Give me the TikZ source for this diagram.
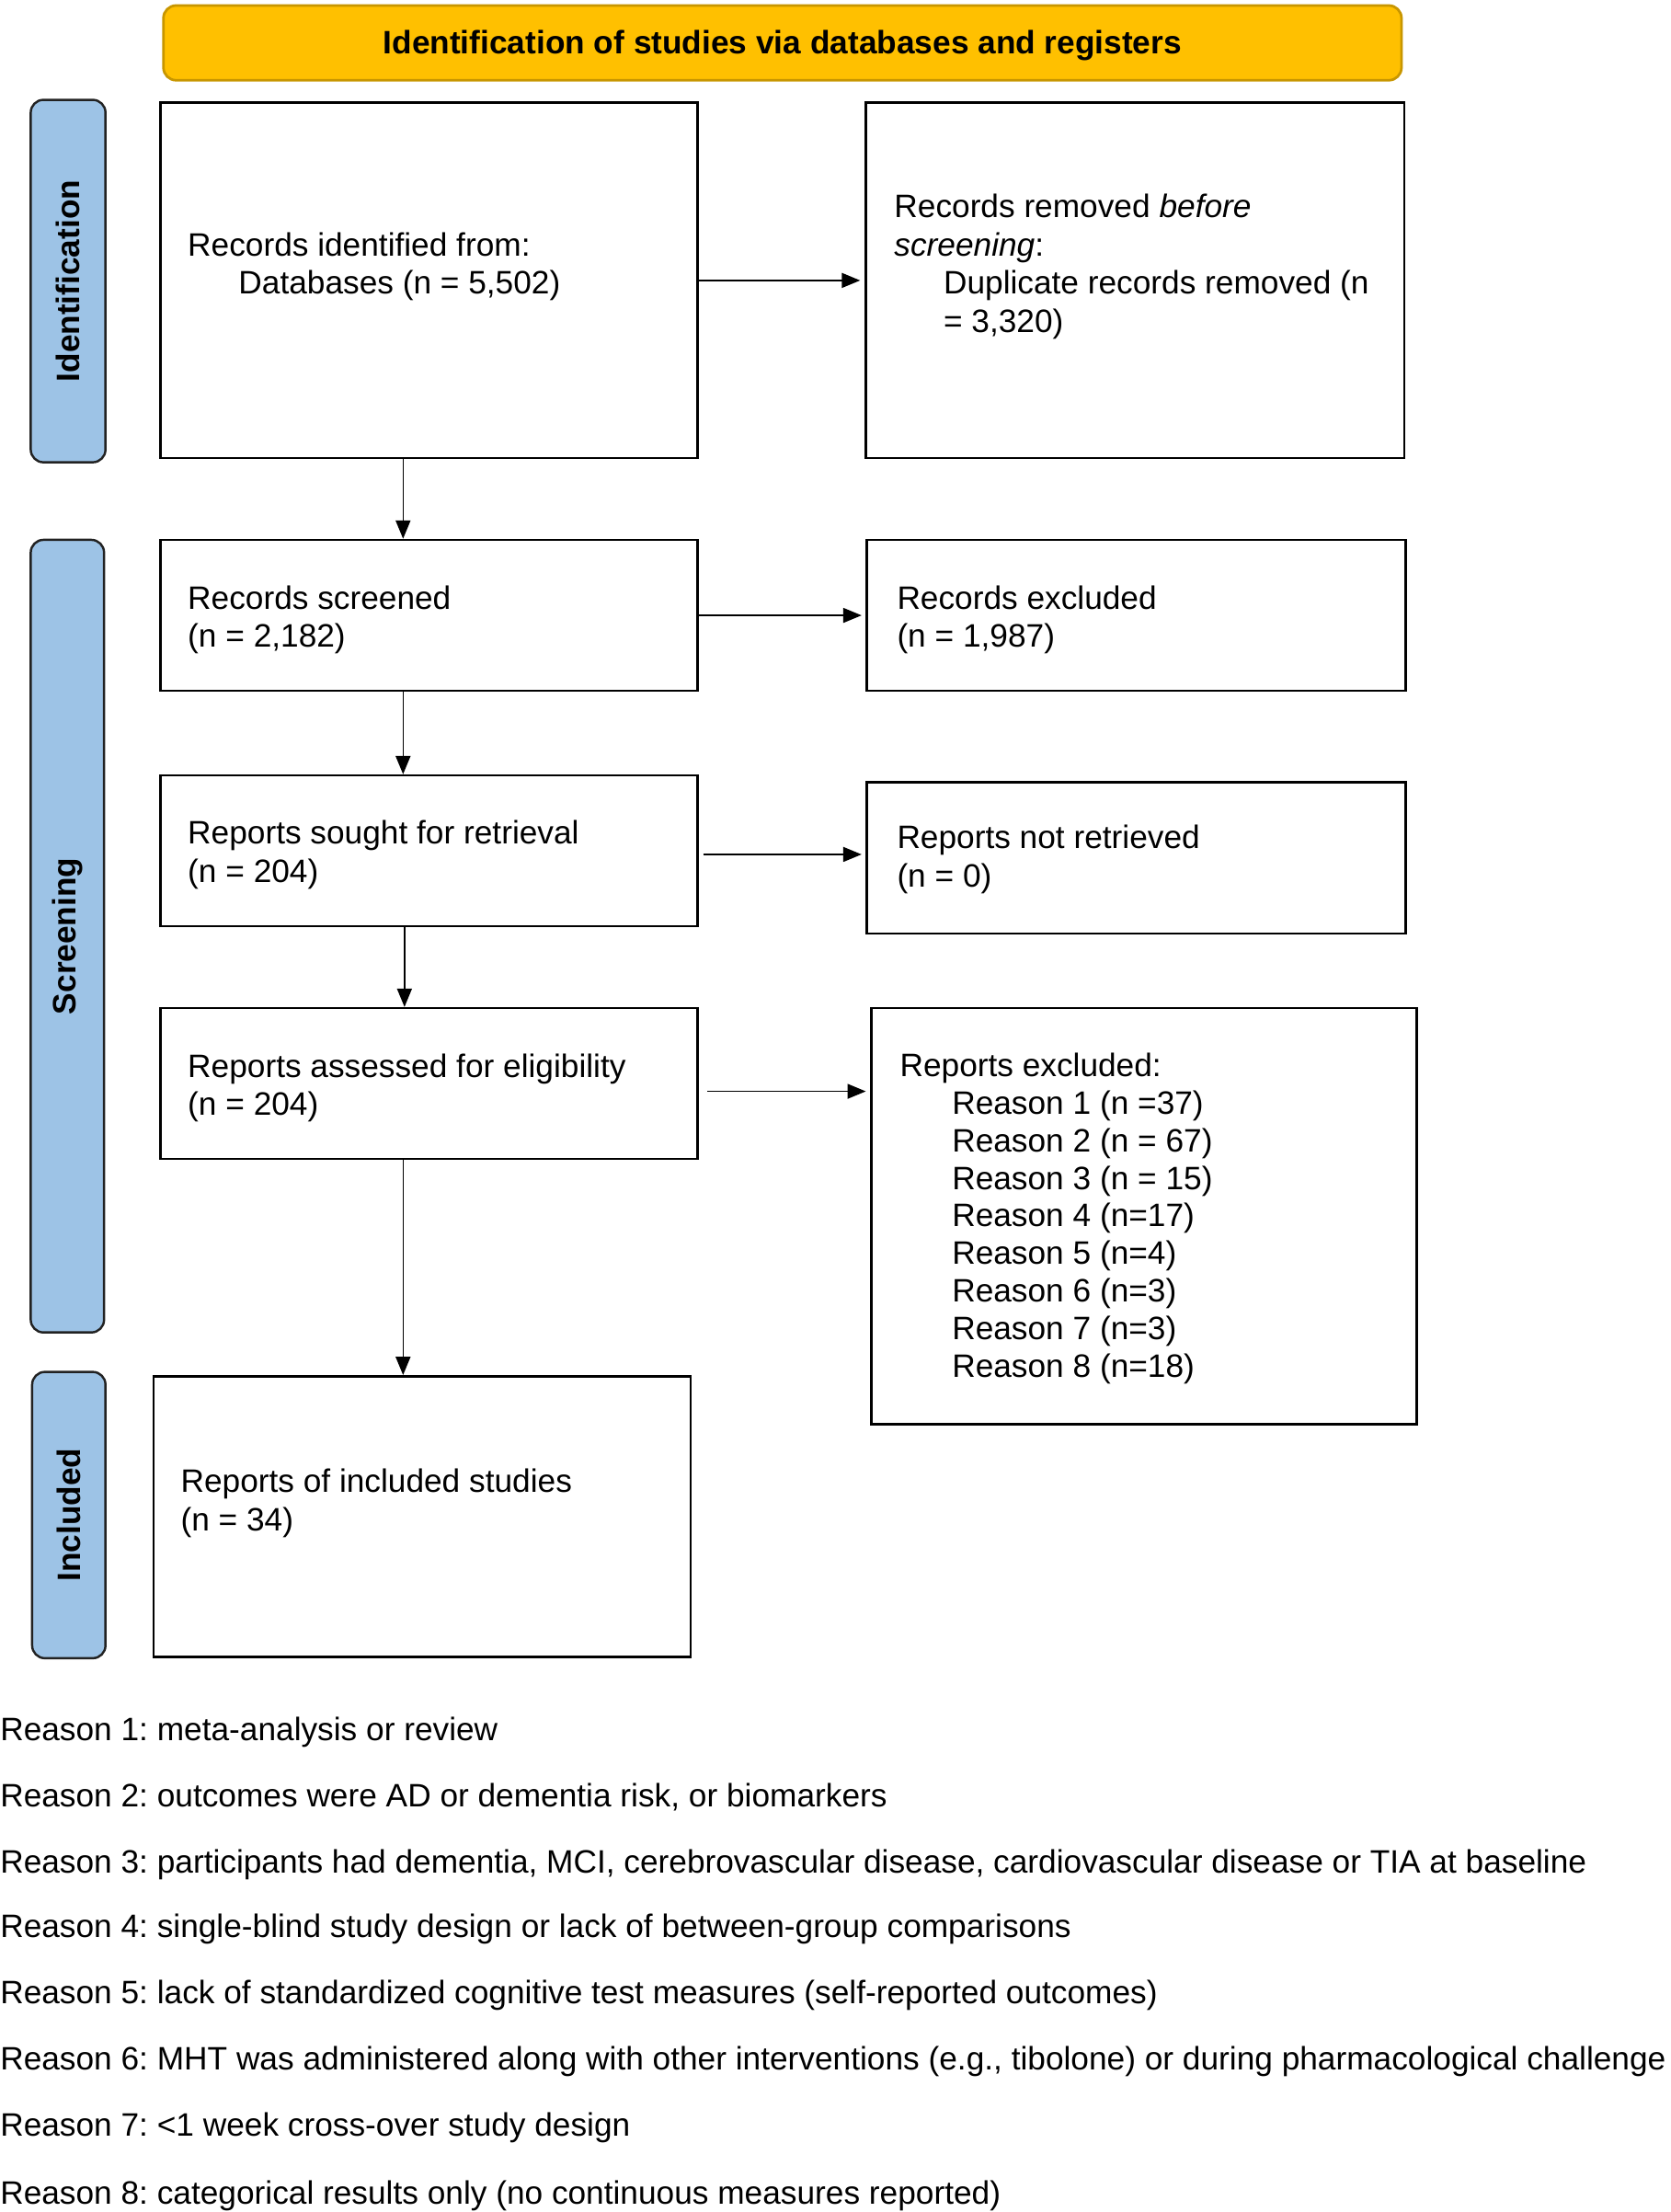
\documentclass[tikz,border=0pt]{standalone}
\usepackage{fontspec}
\setmainfont{Liberation Sans}
\usetikzlibrary{arrows.meta,calc}
\definecolor{hdrfill}{HTML}{FFC000}
\definecolor{hdrline}{HTML}{C89600}
\definecolor{sidefill}{HTML}{9DC3E6}
\definecolor{sideline}{HTML}{222222}
\frenchspacing
\begin{document}
\frenchspacing
\begin{tikzpicture}[x=1pt,y=-1pt,
  font=\fontsize{23}{27}\selectfont,
  box/.style={draw=black, line width=1.7pt, fill=white, rectangle, inner sep=0pt, anchor=north west},
  sidebar/.style={draw=sideline, line width=1.6pt, fill=sidefill, rounded corners=9pt, rectangle, inner sep=0pt, anchor=north west},
  sidetext/.style={rotate=90, font=\fontsize{23}{27}\selectfont\bfseries, inner sep=0pt},
  txt/.style={align=left, inner sep=0pt, anchor=west},
  foot/.style={inner sep=0pt, anchor=base west},
  arr/.style={line width=1pt, -{Triangle[length=13pt,width=10.5pt]}}
]
\useasboundingbox (0,0) rectangle (1185,1568.5);

% header
\node[draw=hdrline, line width=1.8pt, fill=hdrfill, rounded corners=9pt, minimum width=878pt, minimum height=53pt, anchor=north west, inner sep=0pt] (hdr) at (115,3) {};
\node[font=\fontsize{23}{27}\selectfont\bfseries, inner sep=0pt] (hdrt) at ([yshift=-2pt]hdr.center) {Identification of studies via databases and registers};

% side bars
\node[sidebar, minimum width=53pt, minimum height=257pt] (s1) at (21,70) {};
\node[sidetext] (s1t) at (s1.center) {Identification};
\node[sidebar, minimum width=52pt, minimum height=562pt] (s2) at (21,382) {};
\node[sidetext] (s2t) at (s2.center) {Screening};
\node[sidebar, minimum width=52pt, minimum height=203pt] (s3) at (22,972) {};
\node[sidetext] (s3t) at (s3.center) {Included};

% boxes
\node[box, minimum width=381pt, minimum height=252pt] (b1) at (113,72) {};
\node[box, minimum width=382pt, minimum height=252pt] (b2) at (613,72) {};
\node[box, minimum width=381pt, minimum height=107pt] (b3) at (113,382) {};
\node[box, minimum width=382pt, minimum height=107pt] (b4) at (614,382) {};
\node[box, minimum width=381pt, minimum height=107pt] (b5) at (113,549) {};
\node[box, minimum width=382pt, minimum height=107pt] (b6) at (614,554) {};
\node[box, minimum width=381pt, minimum height=107pt] (b7) at (113,714) {};
\node[box, minimum width=387pt, minimum height=295pt] (b8) at (617,714) {};
\node[box, minimum width=381pt, minimum height=199pt] (b9) at (108,975) {};

% box texts
\node[txt] (t1) at (133,189) {Records identified from:\\\hspace*{36pt}Databases (n = 5,502)};
\node[txt] (t2) at (634,189) {Records removed \textit{before}\\\textit{screening}:\\\hspace*{35pt}Duplicate records removed (n\\\hspace*{35pt}= 3,320)};
\node[txt] (t3) at (133,439.5) {Records screened\\(n = 2,182)};
\node[txt] (t4) at (636,439.5) {Records excluded\\(n = 1,987)};
\node[txt] (t5) at (133,606) {Reports sought for retrieval\\(n = 204)};
\node[txt] (t6) at (636,609.5) {Reports not retrieved\\(n = 0)};
\node[txt] (t7) at (133,771.5) {Reports assessed for eligibility\\(n = 204)};
\node[txt, font=\fontsize{23}{26.6}\selectfont] (t8) at (638,864) {Reports excluded:\\
\hspace*{37pt}Reason 1 (n =37)\\
\hspace*{37pt}Reason 2 (n = 67)\\
\hspace*{37pt}Reason 3 (n = 15)\\
\hspace*{37pt}Reason 4 (n=17)\\
\hspace*{37pt}Reason 5 (n=4)\\
\hspace*{37pt}Reason 6 (n=3)\\
\hspace*{37pt}Reason 7 (n=3)\\
\hspace*{37pt}Reason 8 (n=18)};
\node[txt] (t9) at (128,1066) {Reports of included studies\\(n = 34)};

% connectors
\draw[arr] (b1.east) -- ([xshift=-3pt]b2.west);
\draw[arr] ([xshift=-18.5pt]b1.south) -- ([xshift=-18.5pt]b1.south |- b3.north);
\draw[arr] (b3.east) -- ([xshift=-3pt]b3.east -| b4.west);
\draw[arr] ([xshift=-18.5pt]b3.south) -- ([xshift=-18.5pt]b3.south |- b5.north);
\draw[arr] ([xshift=3pt,yshift=-2.5pt]b5.east) -- ([xshift=-3pt,yshift=-2.5pt]b5.east -| b6.west);
\draw[arr] ([xshift=-17.5pt]b5.south) -- ([xshift=-17.5pt]b5.south |- b7.north);
\draw[arr] ([xshift=6pt,yshift=-5.5pt]b7.east) -- ([xshift=-3pt,yshift=-5.5pt]b7.east -| b8.west);
\draw[arr] ([xshift=-18.5pt]b7.south) -- ([xshift=-18.5pt]b7.south |- b9.north);

% footnotes
\node[foot] (f1) at (0,1234) {Reason 1: meta-analysis or review};
\node[foot] (f2) at (0,1281) {Reason 2: outcomes were AD or dementia risk, or biomarkers};
\node[foot] (f3) at (0,1328) {Reason 3: participants had dementia, MCI, cerebrovascular disease, cardiovascular disease or TIA at baseline};
\node[foot] (f4) at (0,1374) {Reason 4: single-blind study design or lack of between-group comparisons};
\node[foot] (f5) at (0,1421) {Reason 5: lack of standardized cognitive test measures (self-reported outcomes)};
\node[foot] (f6) at (0,1468) {Reason 6: MHT was administered along with other interventions (e.g., tibolone) or during pharmacological challenge};
\node[foot] (f7) at (0,1515) {Reason 7: <1 week cross-over study design};
\node[foot] (f8) at (0,1563) {Reason 8: categorical results only (no continuous measures reported)};
\end{tikzpicture}
\end{document}
